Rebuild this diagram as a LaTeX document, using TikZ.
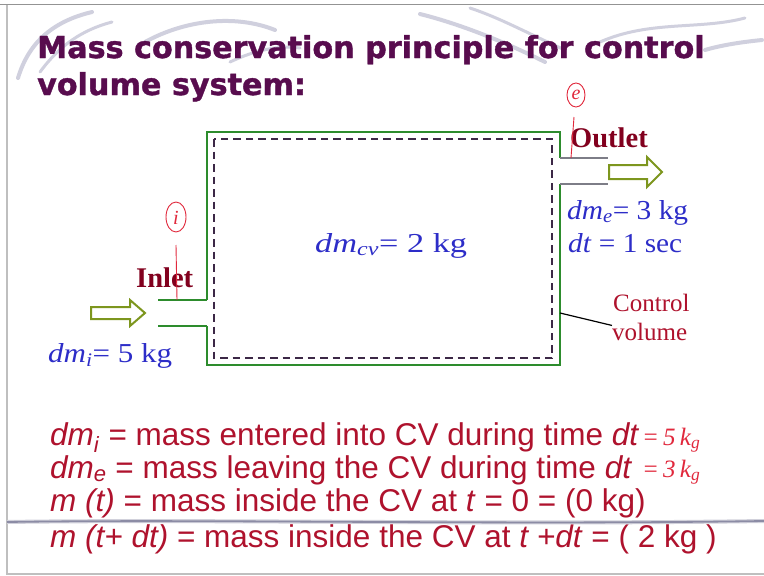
\documentclass[tikz,border=0pt]{standalone}
\usepackage{fontspec}
\setmainfont{Liberation Serif}
\newfontfamily\titlefont{DejaVu Sans}[BoldFeatures={FakeBold=1.2}]
\newfontfamily\bodyfont{Liberation Sans}
\definecolor{titlepurple}{RGB}{88,12,78}
\definecolor{cvgreen}{RGB}{45,140,45}
\definecolor{arrowolive}{RGB}{125,150,30}
\definecolor{dashcol}{RGB}{60,40,70}
\definecolor{labelblue}{RGB}{45,45,200}
\definecolor{portred}{RGB}{130,0,30}
\definecolor{textred}{RGB}{175,18,45}
\definecolor{handred}{RGB}{225,40,60}
\definecolor{swirlgray}{RGB}{208,208,222}
\definecolor{pipegray}{RGB}{125,125,135}
\definecolor{sepgray}{RGB}{140,140,165}
\tikzset{
  titletext/.style={anchor=base west, inner sep=0pt, text=titlepurple, font=\titlefont\bfseries\fontsize{30.2}{36}\selectfont},
  bodytext/.style={anchor=base west, inner sep=0pt, text=textred, font=\bodyfont\fontsize{31.5}{36}\selectfont},
  bluetext/.style={anchor=base west, inner sep=0pt, text=labelblue, font=\fontsize{28}{32}\selectfont},
  porttext/.style={anchor=base west, inner sep=0pt, text=portred, font=\bfseries\fontsize{28.5}{32}\selectfont},
  cvtext/.style={anchor=base west, inner sep=0pt, text=textred, font=\fontsize{25}{29}\selectfont},
  handtext/.style={inner sep=0pt, text=handred, font=\itshape\fontsize{25}{28}\selectfont},
  smallhand/.style={inner sep=0pt, text=handred, font=\itshape\fontsize{20}{22}\selectfont},
  wall/.style={draw=cvgreen, line width=1.9pt},
  pipe/.style={draw=pipegray, line width=1.5pt},
  cvdash/.style={draw=dashcol, line width=2.2pt, dash pattern=on 7.5pt off 5pt},
  flowarrow/.style={draw=arrowolive, line width=2pt, line join=miter},
  hand/.style={draw=handred, line width=0.9pt},
  swirl/.style={draw=swirlgray, line width=4pt, line cap=round},
}
\begin{document}
\begin{tikzpicture}[x=1pt,y=-1pt]
\useasboundingbox (0,0) rectangle (764,576);
\fill[white] (0,0) rectangle (764,576);
% header decoration
\draw[swirl] (18,78) .. controls (28,45) and (50,22) .. (92,12);
\draw[swirl, line width=3pt] (40,72) .. controls (60,45) and (82,30) .. (112,22);
\draw[swirl] (145,42) .. controls (185,20) and (235,14) .. (275,30);
\draw[swirl, line width=3pt] (230,62) .. controls (255,50) and (280,45) .. (300,48);
\draw[swirl] (420,14) .. controls (460,24) and (505,42) .. (545,62);
\draw[swirl, line width=3pt] (470,8) .. controls (500,18) and (525,32) .. (565,50);
\draw[swirl, line width=3pt] (600,42) .. controls (650,20) and (700,30) .. (745,18);
\draw[swirl] (705,50) .. controls (722,45) and (742,42) .. (762,40);
% slide frame
\draw[draw=gray!85, line width=1.4pt] (0,4.5) -- (764,4.5);
\draw[draw=gray!50, line width=1.2pt] (7,4.5) -- (7,574) -- (764,574);
% title
\node[titletext] (t1) at (37,58) {Mass conservation principle for control};
\node[titletext] (t2) at (37,95) {volume system:};
% control volume walls
\draw[wall] (207,300) -- (207,132) -- (560,132) -- (560,158);
\draw[wall] (560,184) -- (560,365) -- (207,365) -- (207,326);
\draw[wall] (158,300) -- (207,300);
\draw[wall] (158,326) -- (207,326);
\draw[pipe] (560,158) -- (608,158);
\draw[pipe] (560,184) -- (608,184);
\draw[cvdash] (214,139) rectangle (552,358);
% flow arrows
\draw[flowarrow] (91,307) -- (130,307) -- (130,300) -- (145,313) -- (130,326) -- (130,319) -- (91,319) -- cycle;
\draw[flowarrow] (609,165) -- (647,165) -- (647,157) -- (662,172) -- (647,187) -- (647,179) -- (609,179) -- cycle;
% labels
\node[porttext] (inlet) at (136,287) {Inlet};
\node[porttext] (outlet) at (570,147) {Outlet};
\node[bluetext] (dmcv) at (315,252) {\resizebox{152pt}{19pt}{\textit{dm}\textsubscript{\textit{cv}}= 2 kg}};
\node[bluetext] (dme) at (567,219) {\resizebox{121pt}{19pt}{\textit{dm}\textsubscript{\textit{e}}= 3 kg}};
\node[bluetext] (dt) at (568,252) {\resizebox{114pt}{19pt}{\textit{dt} = 1 sec}};
\node[bluetext] (dmi) at (48,362) {\resizebox{124pt}{19pt}{\textit{dm}\textsubscript{\textit{i}}= 5 kg}};
\node[cvtext] (cv1) at (613,311) {Control};
\node[cvtext] (cv2) at (612,340) {volume};
\coordinate (cvp) at (560,313);
\draw[black, line width=1.2pt] (cvp) -- ([yshift=6pt]cv2.west);
% handwritten marks
\draw[hand] (176,217) ellipse (10 and 15);
\node[smallhand] (hi) at (176,218) {i};
\draw[hand] (176,245) -- (177,300);
\draw[hand] (576,95) ellipse (9 and 12);
\node[smallhand] (he) at (576,95) {e};
\draw[hand] (574,117) -- (571,158);
% bottom text
\node[bodytext] (l1) at (50,445) {\textit{dm}\textsubscript{\textit{i}} = mass entered into CV during time \textit{dt}};
\node[bodytext] (l2) at (50,478) {\textit{dm}\textsubscript{\textit{e}} = mass leaving the CV during time \textit{dt}};
\node[bodytext] (l3) at (50,511) {\textit{m (t)} = mass inside the CV at \textit{t} = 0 = (0 kg)};
\node[bodytext] (l4) at (50,547) {\textit{m (t+ dt)} = mass inside the CV at \textit{t +dt} = ( 2 kg )};
\node[handtext, anchor=base west] (h1) at (642,445) {=\,5\,k\textsubscript{g}};
\node[handtext, anchor=base west] (h2) at (642,477) {=\,3\,k\textsubscript{g}};
% separator
\draw[draw=sepgray!40, line width=4pt] (7,522) .. controls (200,519) and (500,525) .. (764,521);
\draw[draw=sepgray, line width=1.8pt] (7,522) .. controls (200,519) and (500,525) .. (764,521);
\end{tikzpicture}
\end{document}
